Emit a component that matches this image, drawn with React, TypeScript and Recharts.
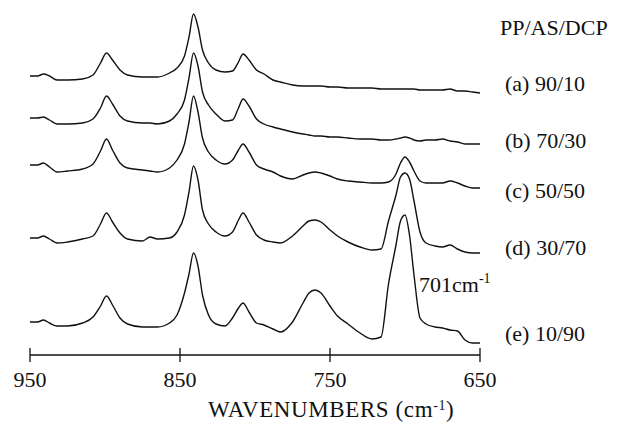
import { LineChart, Line, XAxis, YAxis } from 'recharts';

const INK = '#111';
const SERIF = '"Liberation Serif", "Times New Roman", serif';

// wavenumber grid, cm-1 (axis runs 950 -> 650)
const WAVENUMBERS = [
  950, 945, 941, 937, 932, 925, 915, 908, 903, 899, 895, 890, 885, 875, 870, 865, 857, 852, 847, 844,
  841, 838, 835, 831, 826, 820, 815, 811, 808, 804, 799, 794, 788, 783, 775, 768, 764, 760, 756, 750,
  745, 738, 730, 722, 716, 711, 706, 703, 700, 697, 694, 690, 686, 680, 675, 670, 665, 660, 655, 650,
];

// stacked absorbance traces (arbitrary units, already offset)
const PP90 = [
  279, 279, 281, 279, 275, 275, 276, 280, 292, 302, 295, 285, 280, 278, 278, 278, 282, 287, 299, 318,
  341, 328, 305, 292, 285, 283, 284, 293, 301, 295, 285, 281, 275, 273, 270, 269, 269, 269, 269, 268,
  268, 267, 267, 267, 266, 266, 266, 266, 266, 266, 266, 265, 265, 265, 265, 266, 264, 264, 263, 262,
];
const PP70 = [
  237, 237, 238, 235, 231, 231, 232, 236, 247, 259, 251, 239, 234, 232, 232, 231, 234, 241, 255, 277,
  302, 289, 263, 250, 241, 234, 235, 247, 256, 249, 236, 231, 228, 226, 223, 221, 220, 219, 219, 218,
  218, 217, 216, 216, 215, 215, 216, 217, 218, 217, 215, 214, 215, 215, 216, 214, 213, 211, 211, 211,
];
const PP50 = [
  190, 190, 192, 188, 183, 184, 186, 191, 204, 216, 205, 192, 187, 185, 184, 183, 187, 195, 211, 233,
  259, 243, 217, 203, 195, 191, 195, 205, 211, 203, 190, 186, 183, 179, 176, 180, 182, 183, 182, 179,
  176, 174, 173, 172, 172, 173, 181, 192, 198, 193, 184, 174, 172, 172, 172, 174, 172, 169, 167, 167,
];
const PP30 = [
  117, 117, 119, 116, 112, 113, 116, 119, 131, 142, 133, 122, 116, 114, 118, 116, 117, 123, 140, 163,
  189, 175, 145, 131, 123, 119, 123, 135, 142, 133, 120, 115, 113, 112, 119, 129, 134, 135, 133, 125,
  119, 113, 108, 105, 106, 134, 160, 178, 182, 176, 154, 123, 112, 109, 108, 110, 106, 103, 102, 102,
];
const PP10 = [
  33, 33, 35, 32, 29, 29, 32, 38, 49, 59, 50, 37, 31, 28, 28, 28, 32, 40, 62, 81,
  102, 89, 60, 40, 31, 29, 37, 47, 52, 43, 32, 30, 26, 23, 33, 52, 62, 65, 62, 49,
  39, 31, 22, 16, 18, 71, 110, 134, 140, 120, 80, 37, 31, 28, 27, 25, 24, 15, 12, 12,
];

const X_TICKS = [950, 850, 750, 650];
const SAMPLE_LABELS = ['(a) 90/10', '(b) 70/30', '(c) 50/50', '(d) 30/70', '(e) 10/90'];
const LABEL_BASELINES = [91, 148, 198, 255, 341];

const data = WAVENUMBERS.map((wn, i) => ({
  wn,
  a: PP90[i],
  b: PP70[i],
  c: PP50[i],
  d: PP30[i],
  e: PP10[i],
}));

// tick mark crosses the axis line, label sits below it
function WaveTick(props: any) {
  const { x, y, payload } = props;
  return (
    <g>
      <line x1={x} x2={x} y1={y - 7} y2={y + 7} stroke={INK} strokeWidth={1.3} />
      <text x={x} y={y + 32} textAnchor="middle" fontFamily={SERIF} fontSize={22} fill={INK}>
        {payload.value}
      </text>
    </g>
  );
}

export default function App() {
  return (
    <div style={{ position: 'absolute', left: 0, top: 0, width: 617, height: 428, background: '#fff' }}>
      <LineChart width={617} height={428} data={data} margin={{ top: 5, right: 137, bottom: 43, left: 30 }}>
        <XAxis
          dataKey="wn"
          type="number"
          domain={[650, 950]}
          reversed
          ticks={X_TICKS}
          height={30}
          tickSize={0}
          tickMargin={0}
          tickLine={false}
          axisLine={{ stroke: INK, strokeWidth: 1.3 }}
          tick={<WaveTick />}
          interval={0}
        />
        <YAxis hide domain={[0, 350]} />
        {['a', 'b', 'c', 'd', 'e'].map((k) => (
          <Line
            key={k}
            dataKey={k}
            type="monotone"
            stroke={INK}
            strokeWidth={1.4}
            strokeLinejoin="round"
            dot={false}
            isAnimationActive={false}
          />
        ))}
      </LineChart>
      <svg
        width={617}
        height={428}
        style={{ position: 'absolute', left: 0, top: 0, pointerEvents: 'none' }}
        fontFamily={SERIF}
        fill={INK}
      >
        <text x={500} y={35} fontSize={22}>PP/AS/DCP</text>
        {SAMPLE_LABELS.map((s, i) => (
          <text key={s} x={505} y={LABEL_BASELINES[i]} fontSize={22}>
            {s}
          </text>
        ))}
        <text x={419} y={292} fontSize={22}>
          701cm<tspan fontSize={14} dy={-9}>-1</tspan>
        </text>
        <text x={208} y={417} fontSize={23} letterSpacing={0.6}>
          WAVENUMBERS (cm<tspan fontSize={14} dy={-7}>-1</tspan>
          <tspan dy={7}>)</tspan>
        </text>
      </svg>
    </div>
  );
}
